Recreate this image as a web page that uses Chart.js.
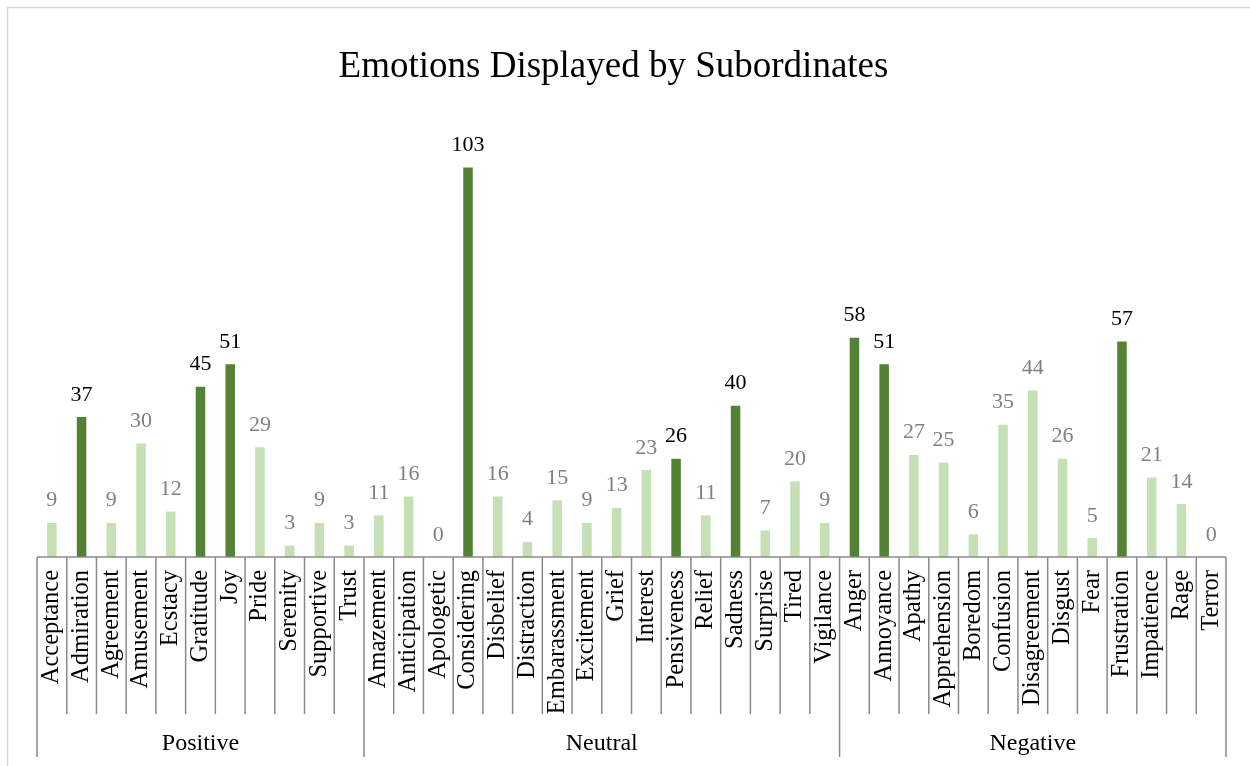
<!DOCTYPE html>
<html>
<head>
<meta charset="utf-8">
<script src="https://cdn.jsdelivr.net/npm/chart.js@4/dist/chart.umd.min.js"></script>
<style>
  html, body { margin: 0; padding: 0; background: #fff; }
  #wrap { width: 1250px; height: 766px; position: relative; }
</style>
</head>
<body>
<div id="wrap"><canvas id="chart"></canvas></div>
<script>
// Emotion categories, grouped by valence
const positiveLabels = ['Acceptance', 'Admiration', 'Agreement', 'Amusement', 'Ecstacy', 'Gratitude', 'Joy', 'Pride', 'Serenity', 'Supportive', 'Trust'];
const positiveCounts = [9, 37, 9, 30, 12, 45, 51, 29, 3, 9, 3];

const neutralLabels = ['Amazement', 'Anticipation', 'Apologetic', 'Considering', 'Disbelief', 'Distraction', 'Embarassment', 'Excitement', 'Grief', 'Interest', 'Pensiveness', 'Relief', 'Sadness', 'Surprise', 'Tired', 'Vigilance'];
const neutralCounts = [11, 16, 0, 103, 16, 4, 15, 9, 13, 23, 26, 11, 40, 7, 20, 9];

const negativeLabels = ['Anger', 'Annoyance', 'Apathy', 'Apprehension', 'Boredom', 'Confusion', 'Disagreement', 'Disgust', 'Fear', 'Frustration', 'Impatience', 'Rage', 'Terror'];
const negativeCounts = [58, 51, 27, 25, 6, 35, 44, 26, 5, 57, 21, 14, 0];

const groupNames = ['Positive', 'Neutral', 'Negative'];
const chartTitle = 'Emotions Displayed by Subordinates';

// Emotions shown in the darker shade
const highlighted = ['Admiration', 'Gratitude', 'Joy', 'Considering', 'Pensiveness', 'Sadness', 'Anger', 'Annoyance', 'Frustration'];

const categories = [...positiveLabels, ...neutralLabels, ...negativeLabels];
const counts = [...positiveCounts, ...neutralCounts, ...negativeCounts];
const groupSizes = [positiveLabels.length, neutralLabels.length, negativeLabels.length];

const DARK = '#548235';
const LIGHT = '#C5E0B4';
const SERIF = '"Liberation Serif", "Times New Roman", serif';
const LINE = '#8a8a8a';

const isDark = categories.map(c => highlighted.includes(c));

// Outer frame and the title
const framePlugin = {
  id: 'frame',
  beforeDraw(chart) {
    const ctx = chart.ctx;
    ctx.save();
    ctx.fillStyle = '#fff';
    ctx.fillRect(0, 0, chart.width, chart.height);
    ctx.strokeStyle = '#d9d9d9';
    ctx.lineWidth = 1.5;
    ctx.strokeRect(7.5, 7.5, chart.width + 20, chart.height + 20);
    ctx.fillStyle = '#000';
    ctx.font = '37px ' + SERIF;
    ctx.textAlign = 'center';
    ctx.textBaseline = 'alphabetic';
    ctx.fillText(chartTitle, 613.5, 77);
    ctx.restore();
  }
};

// Value labels above each bar
const valueLabelPlugin = {
  id: 'valueLabels',
  afterDatasetsDraw(chart) {
    const ctx = chart.ctx;
    const meta = chart.getDatasetMeta(0);
    ctx.save();
    ctx.font = '22px ' + SERIF;
    ctx.textAlign = 'center';
    ctx.textBaseline = 'alphabetic';
    meta.data.forEach((bar, i) => {
      ctx.fillStyle = isDark[i] ? '#000000' : '#808080';
      ctx.fillText(String(counts[i]), bar.x, bar.y - 16.5);
    });
    ctx.restore();
  }
};

// Axis line, category separators and the group row beneath the labels
const groupAxisPlugin = {
  id: 'groupAxis',
  afterDraw(chart) {
    const ctx = chart.ctx;
    const x = chart.scales.x;
    const area = chart.chartArea;
    const step = (area.right - area.left) / categories.length;
    const base = area.bottom;
    const tickBottom = base + 157;
    const groupBottom = base + 200;
    ctx.save();
    ctx.strokeStyle = LINE;
    ctx.lineWidth = 1.5;
    ctx.beginPath();
    ctx.moveTo(area.left, base);
    ctx.lineTo(area.right, base);
    ctx.stroke();

    const bounds = [0];
    groupSizes.forEach(n => bounds.push(bounds[bounds.length - 1] + n));

    for (let i = 0; i <= categories.length; i++) {
      const px = x.getPixelForValue(i) - step / 2;
      const isGroupEdge = bounds.includes(i);
      ctx.beginPath();
      ctx.moveTo(px, base);
      ctx.lineTo(px, isGroupEdge ? groupBottom : tickBottom);
      ctx.stroke();
    }

    ctx.fillStyle = '#000';
    ctx.font = '24px ' + SERIF;
    ctx.textAlign = 'center';
    ctx.textBaseline = 'middle';
    groupNames.forEach((name, g) => {
      const left = x.getPixelForValue(bounds[g]) - step / 2;
      const right = x.getPixelForValue(bounds[g + 1]) - step / 2;
      ctx.fillText(name, (left + right) / 2, base + 187);
    });
    ctx.restore();
  }
};

new Chart(document.getElementById('chart'), {
  type: 'bar',
  data: {
    labels: categories,
    datasets: [{
      data: counts,
      backgroundColor: categories.map((c, i) => isDark[i] ? DARK : LIGHT),
      borderWidth: 0,
      barPercentage: 0.64,
      categoryPercentage: 0.5
    }]
  },
  options: {
    responsive: true,
    maintainAspectRatio: false,
    animation: false,
    devicePixelRatio: 1,
    layout: { padding: { left: 37, right: 24, top: 141, bottom: 0 } },
    plugins: {
      legend: { display: false },
      tooltip: { enabled: false },
      title: { display: false }
    },
    scales: {
      x: {
        grid: { display: false, drawTicks: false },
        border: { display: false },
        ticks: {
          autoSkip: false,
          minRotation: 90,
          maxRotation: 90,
          padding: 13,
          color: '#000',
          font: { family: SERIF, size: 24.5 }
        },
        afterFit(scale) {
          scale.height = 209;
          scale.paddingLeft = 0;
          scale.paddingRight = 0;
        }
      },
      y: {
        display: false,
        min: 0,
        max: 110
      }
    }
  },
  plugins: [framePlugin, valueLabelPlugin, groupAxisPlugin]
});
</script>
</body>
</html>
